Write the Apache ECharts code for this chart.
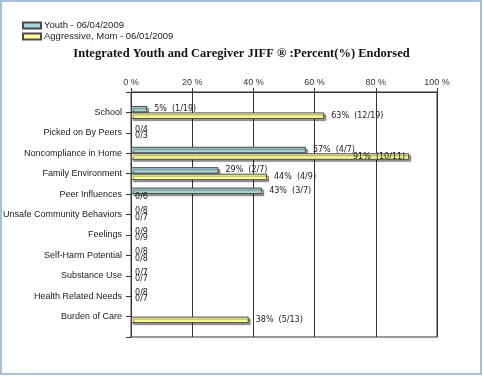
<!DOCTYPE html>
<html>
<head>
<meta charset="utf-8">
<script src="https://cdn.jsdelivr.net/npm/echarts@6/dist/echarts.min.js"></script>
<style>
  html, body { margin: 0; padding: 0; background: #fff; }
  #chart { width: 483px; height: 376px; }
</style>
</head>
<body>
<div id="chart"></div>
<script>
// categories, top to bottom
var categories = [
  "School",
  "Picked on By Peers",
  "Noncompliance in Home",
  "Family Environment",
  "Peer Influences",
  "Unsafe Community Behaviors",
  "Feelings",
  "Self-Harm Potential",
  "Substance Use",
  "Health Related Needs",
  "Burden of Care"
];
// endorsed / total items per domain
var youthEndorsed = [1, 0, 4, 2, 3, 0, 0, 0, 0, 0, null];
var youthTotal = [19, 4, 7, 7, 7, 8, 9, 8, 7, 8, null];
var careEndorsed = [12, 0, 10, 4, 0, 0, 0, 0, 0, 0, 5];
var careTotal = [19, 3, 11, 9, 6, 7, 9, 8, 7, 7, 13];
var xTicks = [0, 20, 40, 60, 80, 100];

var seriesNames = ["Youth - 06/04/2009", "Aggressive, Mom - 06/01/2009"];

var chart = echarts.init(document.getElementById("chart"));

function buildData(endorsed, total) {
  var out = [null];
  for (var i = 0; i < endorsed.length; i++) {
    var e = endorsed[i], t = total[i];
    if (e === null) {
      out.push(null);
      continue;
    }
    var pct = (e / t) * 100;
    var item = {
      value: pct,
      labelText: e === 0 ? e + "/" + t : Math.round(pct) + "%  (" + e + "/" + t + ")"
    };
    if (e === 0) {
      item.itemStyle = { borderWidth: 0, shadowColor: "rgba(0,0,0,0)" };
      item.label = { distance: 4 };
    }
    // label does not fit past the bar end, draw it inside
    if (pct > 85) {
      item.label = { position: "insideRight", distance: 4 };
    }
    out.push(item);
  }
  out.push(null);
  return out;
}

var barStyle = function (color) {
  return {
    color: color,
    borderColor: "#4a4a4a",
    borderWidth: 1,
    shadowColor: "rgba(0,0,0,0.4)",
    shadowOffsetX: 2,
    shadowOffsetY: 2,
    shadowBlur: 1
  };
};

var labelStyle = {
  show: true,
  position: "right",
  distance: 7,
  color: "#222",
  fontFamily: "DejaVu Sans",
  fontSize: 8,
  formatter: function (p) {
    return p.data && p.data.labelText ? p.data.labelText : "";
  }
};

var option = {
  animation: false,
  backgroundColor: "#fff",
  graphic: [
    {
      type: "rect",
      shape: { x: 1, y: 1, width: 480, height: 373 },
      style: { fill: "none", stroke: "#a7bfd8", lineWidth: 2 },
      silent: true
    }
  ],
  title: {
    text: "Integrated Youth and Caregiver JIFF \u00AE :Percent(%) Endorsed",
    left: "center",
    top: 42,
    textStyle: {
      fontFamily: "Liberation Serif",
      fontWeight: "bold",
      fontSize: 12.5,
      color: "#111"
    }
  },
  legend: {
    orient: "vertical",
    left: 17,
    top: 15,
    padding: 5,
    itemWidth: 18,
    itemHeight: 6,
    itemGap: 0,
    icon: "rect",
    textStyle: {
      fontFamily: "Liberation Sans",
      fontSize: 9.5,
      lineHeight: 11,
      color: "#222",
      padding: [0, 0, 0, -2]
    },
    data: seriesNames
  },
  grid: {
    left: 130,
    top: 92,
    right: 46,
    bottom: 39,
    show: true,
    borderColor: "#333",
    borderWidth: 1
  },
  xAxis: {
    type: "value",
    position: "top",
    min: xTicks[0],
    max: xTicks[xTicks.length - 1],
    interval: 20,
    axisLine: { show: true, lineStyle: { color: "#333" } },
    axisTick: { show: true, length: 4, lineStyle: { color: "#333" } },
    axisLabel: {
      formatter: "{value} %",
      color: "#333",
      fontFamily: "Liberation Sans",
      fontSize: 9,
      margin: 5
    },
    splitLine: { show: true, lineStyle: { color: "#333", width: 1 } }
  },
  yAxis: {
    type: "category",
    inverse: true,
    boundaryGap: false,
    data: [""].concat(categories, [""]),
    axisLine: { show: true, lineStyle: { color: "#333" } },
    axisTick: { show: true, length: 5, lineStyle: { color: "#333" } },
    axisLabel: {
      color: "#222",
      fontFamily: "Liberation Sans",
      fontSize: 9,
      margin: 9,
      interval: 0
    },
    splitLine: { show: false }
  },
  series: [
    {
      name: seriesNames[0],
      type: "bar",
      barWidth: 6.5,
      barGap: "0%",
      itemStyle: barStyle("#a9d4d5"),
      label: labelStyle,
      data: buildData(youthEndorsed, youthTotal)
    },
    {
      name: seriesNames[1],
      type: "bar",
      barWidth: 6.5,
      barGap: "0%",
      itemStyle: barStyle("#ffff99"),
      label: labelStyle,
      data: buildData(careEndorsed, careTotal)
    }
  ]
};

chart.setOption(option);
</script>
</body>
</html>
